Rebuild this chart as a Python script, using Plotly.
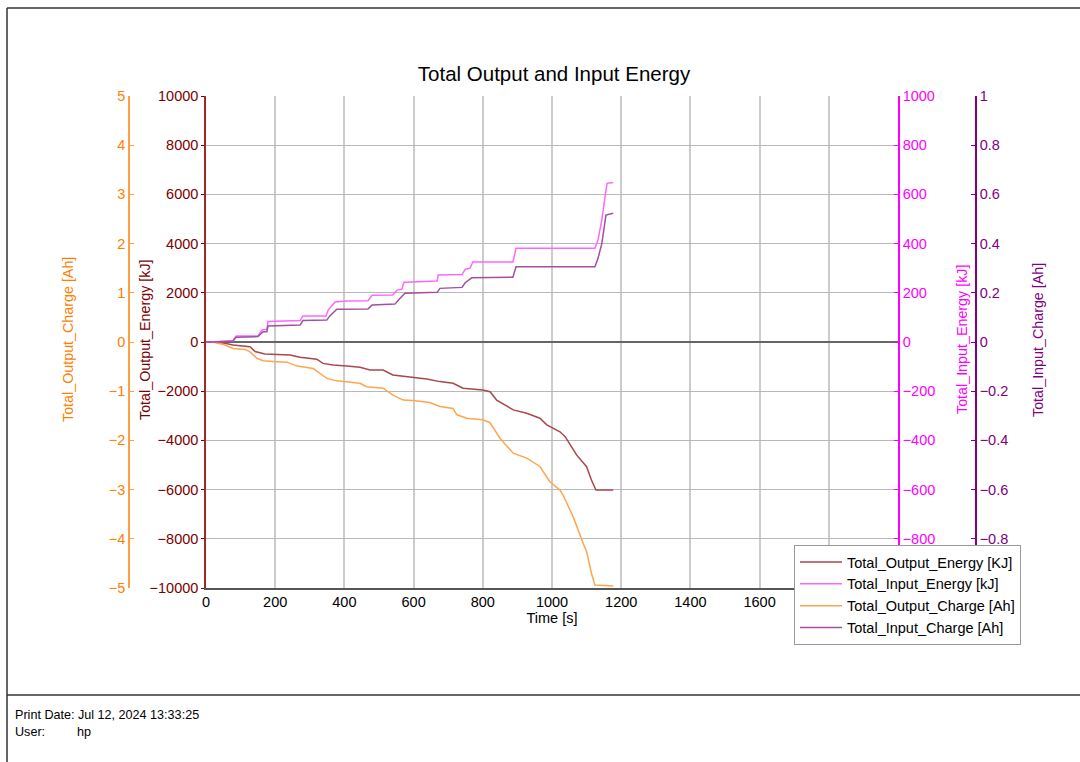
import plotly.graph_objects as go

W, H = 1080, 762

# ---- data ----
t_out_energy = [0, 20, 55, 78, 127, 142, 170, 205, 243, 272, 320, 338, 367, 407, 445, 474, 512, 540,
                581, 638, 676, 714, 743, 800, 821, 840, 888, 927, 965, 985, 1023, 1038, 1071, 1100,
                1114, 1127, 1177]
out_energy = [0, 0, -50, -120, -190, -390, -490, -500, -530, -620, -700, -870, -935, -975, -1030, -1140,
              -1140, -1340, -1410, -1500, -1610, -1680, -1880, -1950, -2020, -2360, -2760, -2900, -3100,
              -3370, -3650, -3850, -4590, -5070, -5610, -6020, -6020]

t_in_energy = [0, 20, 78, 87, 150, 162, 176, 179, 272, 280, 347, 353, 373, 407, 468, 480, 540, 552, 566,
               572, 668, 671, 740, 749, 763, 771, 887, 896, 1124, 1133, 1144, 1159, 1177]
in_energy = [0, 0, 5, 24, 24, 49, 52, 83, 87, 106, 106, 130, 163, 167, 168, 190, 191, 211, 214, 243, 248,
             272, 274, 295, 300, 325, 325, 381, 381, 415, 496, 645, 648]

t_out_charge = [0, 20, 55, 78, 113, 127, 147, 165, 205, 234, 263, 310, 330, 349, 378, 407, 445, 464, 512,
                540, 570, 598, 647, 676, 714, 725, 754, 800, 821, 850, 888, 927, 965, 994, 1023, 1032,
                1061, 1090, 1100, 1114, 1124, 1177]
out_charge = [0, 0, -0.06, -0.13, -0.15, -0.2, -0.33, -0.38, -0.40, -0.41, -0.49, -0.54, -0.64, -0.74,
              -0.79, -0.81, -0.84, -0.91, -0.94, -1.08, -1.18, -1.19, -1.23, -1.31, -1.35, -1.48, -1.55,
              -1.58, -1.64, -1.96, -2.26, -2.36, -2.53, -2.84, -3.01, -3.11, -3.55, -4.09, -4.26, -4.70,
              -4.94, -4.96]

t_in_charge = [0, 20, 78, 87, 150, 165, 176, 179, 272, 280, 349, 358, 378, 468, 480, 546, 561, 575, 668,
               676, 740, 749, 768, 887, 896, 1124, 1133, 1144, 1156, 1177]
in_charge = [0, 0, 0.004, 0.019, 0.022, 0.042, 0.042, 0.065, 0.069, 0.087, 0.089, 0.106, 0.133, 0.134,
             0.150, 0.154, 0.178, 0.198, 0.202, 0.218, 0.222, 0.241, 0.261, 0.263, 0.306, 0.306, 0.34,
             0.40, 0.516, 0.523]

names = ["Total_Output_Energy [KJ]", "Total_Input_Energy [kJ]",
         "Total_Output_Charge [Ah]", "Total_Input_Charge [Ah]"]

FONT = "Liberation Sans, Arial, sans-serif"
C_OE, C_IE, C_OC, C_IC = "#A8484E", "#FF66FF", "#FFA54F", "#A050A0"
AX_OE, AX_IE, AX_OC, AX_IC = "#7B0000", "#FF00FF", "#FF8000", "#800080"


def px(x):
    return x / W


def py(y):
    return 1 - y / H


fig = go.Figure()
fig.add_trace(go.Scatter(x=t_out_energy, y=out_energy, name=names[0], mode="lines",
                         line=dict(color=C_OE, width=1.5), yaxis="y"))
fig.add_trace(go.Scatter(x=t_in_energy, y=in_energy, name=names[1], mode="lines",
                         line=dict(color=C_IE, width=1.5), yaxis="y3"))
fig.add_trace(go.Scatter(x=t_out_charge, y=out_charge, name=names[2], mode="lines",
                         line=dict(color=C_OC, width=1.5), yaxis="y2"))
fig.add_trace(go.Scatter(x=t_in_charge, y=in_charge, name=names[3], mode="lines",
                         line=dict(color=C_IC, width=1.5), yaxis="y4"))

ydom = [py(588), py(96)]
tickf = dict(family=FONT, size=14.5)

fig.update_layout(
    width=W, height=H,
    margin=dict(l=0, r=0, t=0, b=0),
    paper_bgcolor="white", plot_bgcolor="white",
    font=dict(family=FONT, size=14, color="#000"),
    title=dict(text="Total Output and Input Energy", x=px(554), y=py(74),
               xanchor="center", yanchor="middle", font=dict(size=20.5, color="#000")),
    xaxis=dict(domain=[px(206), px(898)], range=[0, 2000], dtick=200, tick0=0,
               showgrid=True, gridcolor="#cccccc", gridwidth=1.5, zeroline=False,
               showline=True, linecolor="#555555", linewidth=1.5,
               ticks="", tickformat="d",
               tickfont=dict(family=FONT, size=14.5, color="#000"),
               title=dict(text="Time [s]", standoff=0, font=dict(size=14.5, color="#000")),
               automargin=False, anchor="y"),
    yaxis=dict(domain=ydom, range=[-10000, 10000], dtick=2000, tick0=-10000, tickformat="d",
               showgrid=True, gridcolor="#b8b8b8", gridwidth=1.2,
               zeroline=True, zerolinecolor="#666666", zerolinewidth=1.5,
               showline=True, linecolor="#A02828", linewidth=1.5,
               ticks="outside", ticklen=3, tickcolor=AX_OE,
               tickfont=dict(tickf, color=AX_OE), automargin=False, anchor="x"),
    yaxis2=dict(domain=ydom, range=[-5, 5], dtick=1, tick0=-5, overlaying="y", side="left",
                anchor="free", position=px(129), showgrid=False, zeroline=False,
                showline=True, linecolor="#FFA040", linewidth=1.5,
                ticks="inside", ticklen=4, tickcolor="#FFA040",
                tickfont=dict(tickf, color=AX_OC), automargin=False),
    yaxis3=dict(domain=ydom, range=[-1000, 1000], dtick=200, tick0=-1000, overlaying="y", side="right",
                anchor="x", showgrid=False, zeroline=False, tickformat="d",
                showline=True, linecolor=AX_IE, linewidth=1.5,
                ticks="inside", ticklen=4, tickcolor=AX_IE,
                tickfont=dict(tickf, color=AX_IE), automargin=False),
    yaxis4=dict(domain=ydom, range=[-1, 1], dtick=0.2, tick0=-1, overlaying="y", side="right",
                anchor="free", position=px(976), showgrid=False, zeroline=False,
                showline=True, linecolor=AX_IC, linewidth=1.5,
                ticks="inside", ticklen=4, tickcolor=AX_IC,
                tickfont=dict(tickf, color=AX_IC), automargin=False),
    legend=dict(x=px(794), y=py(545), xanchor="left", yanchor="top",
                bgcolor="white", bordercolor="#999999", borderwidth=1, itemwidth=42,
                font=dict(family=FONT, size=14.5, color="#000"), tracegroupgap=0),
    showlegend=True,
)

ann = [
    ("Total_Output_Charge [Ah]", 68, AX_OC),
    ("Total_Output_Energy [kJ]", 145, AX_OE),
    ("Total_Input_Energy [kJ]", 962, AX_IE),
    ("Total_Input_Charge [Ah]", 1038, AX_IC),
]
for txt, x, c in ann:
    fig.add_annotation(text=txt, x=px(x), y=py(340), xref="paper", yref="paper",
                       textangle=-90, showarrow=False, xanchor="center", yanchor="middle",
                       font=dict(family=FONT, size=14.3, color=c))

fig.add_annotation(text="Print Date: Jul 12, 2024 13:33:25", x=px(13), y=py(715), xref="paper",
                   yref="paper", showarrow=False, xanchor="left", yanchor="middle",
                   font=dict(family=FONT, size=12.6, color="#000"))
fig.add_annotation(text="User:", x=px(13), y=py(732), xref="paper", yref="paper", showarrow=False,
                   xanchor="left", yanchor="middle", font=dict(family=FONT, size=12.6, color="#000"))
fig.add_annotation(text="hp", x=px(75), y=py(732), xref="paper", yref="paper", showarrow=False,
                   xanchor="left", yanchor="middle", font=dict(family=FONT, size=12.6, color="#000"))

frame = dict(color="#333333", width=1.5)
fig.add_shape(type="line", xref="paper", yref="paper", x0=px(7), x1=1, y0=py(8), y1=py(8), line=frame)
fig.add_shape(type="line", xref="paper", yref="paper", x0=px(7), x1=px(7), y0=py(8), y1=0, line=frame)
fig.add_shape(type="line", xref="paper", yref="paper", x0=px(7), x1=1, y0=py(695), y1=py(695), line=frame)

fig.write_html("out.html")
